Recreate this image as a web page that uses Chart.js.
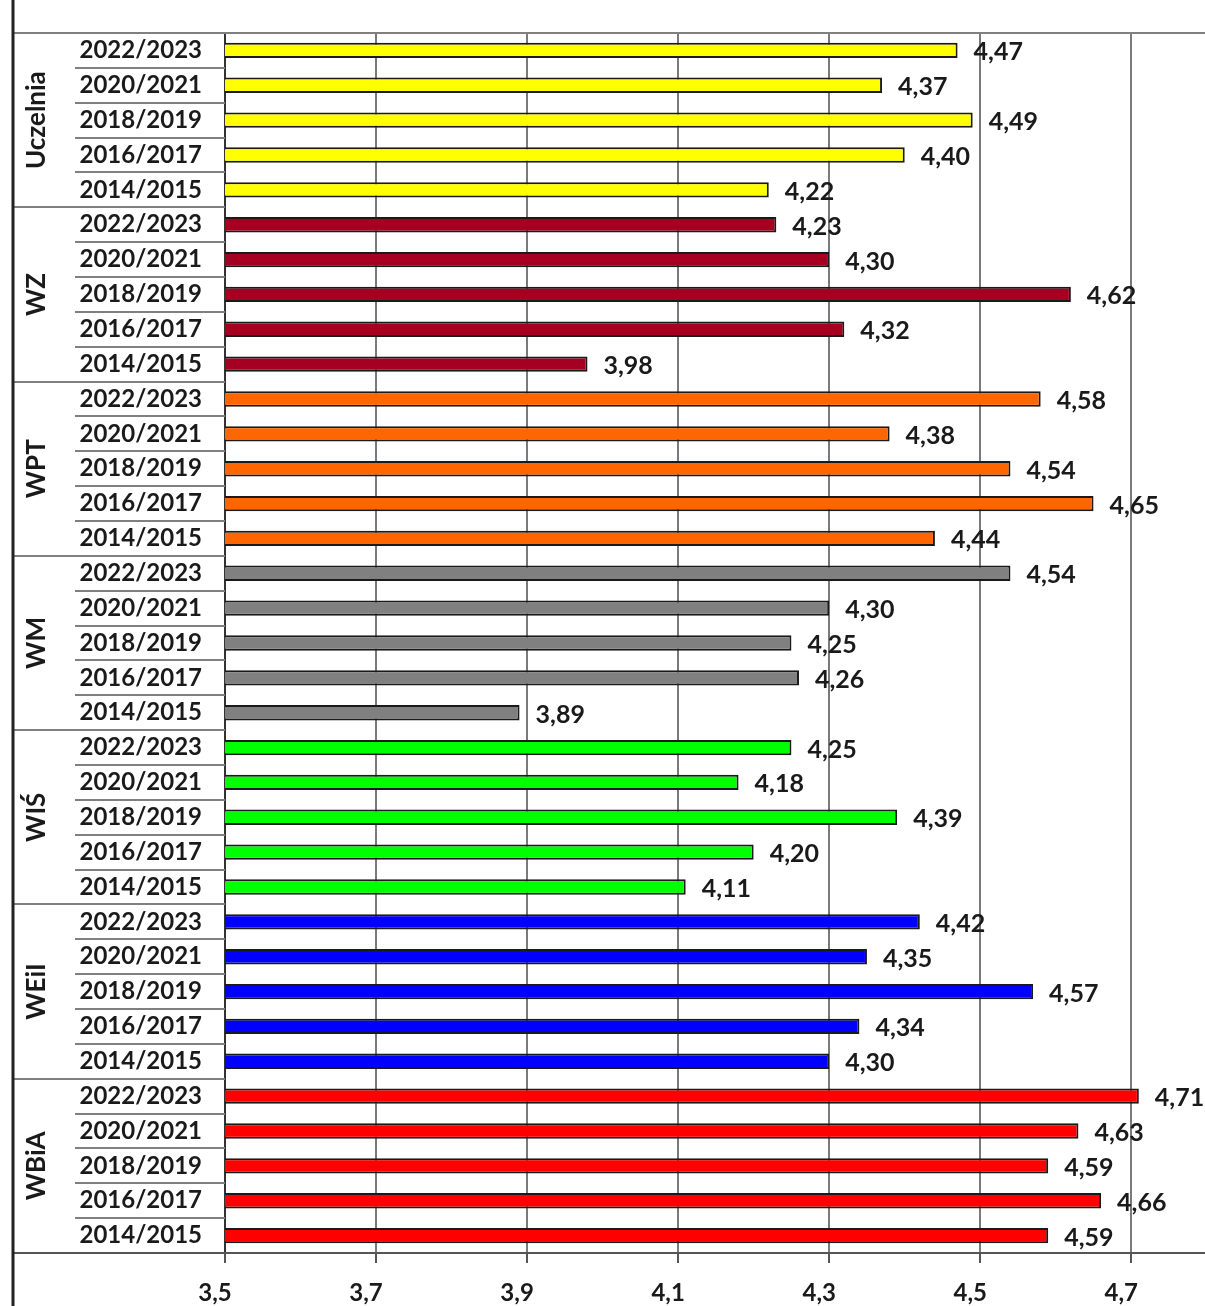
<!DOCTYPE html>
<html>
<head>
<meta charset="utf-8">
<title>Oceny</title>
<script src="https://cdn.jsdelivr.net/npm/chart.js@4.4.1/dist/chart.umd.min.js"></script>
<style>
  html, body { margin: 0; background: #fff; overflow: hidden; }
  #box { width: 1205px; height: 1306px; position: relative; }
</style>
</head>
<body>
<div id="box"><canvas id="oceny_chart"></canvas></div>
<script>
// groups (top -> bottom) and years inside each group
let groups = ["Uczelnia", "WZ", "WPT", "WM", "WIŚ", "WEiI", "WBiA"];
let years = ["2022/2023", "2020/2021", "2018/2019", "2016/2017", "2014/2015"];

let uczelnia = [4.47, 4.37, 4.49, 4.40, 4.22];
let wz = [4.23, 4.30, 4.62, 4.32, 3.98];
let wpt = [4.58, 4.38, 4.54, 4.65, 4.44];
let wm = [4.54, 4.30, 4.25, 4.26, 3.89];
let wis = [4.25, 4.18, 4.39, 4.20, 4.11];
let weii = [4.42, 4.35, 4.57, 4.34, 4.30];
let wbia = [4.71, 4.63, 4.59, 4.66, 4.59];

let xTicks = [3.5, 3.7, 3.9, 4.1, 4.3, 4.5, 4.7];

let groupColors = ["#ffff00", "#a50021", "#ff6600", "#808080", "#00ff00", "#0000ff", "#ff0000"];

let allValues = [uczelnia, wz, wpt, wm, wis, weii, wbia];
let labels = [];
let values = [];
let colors = [];
allValues.forEach((arr, g) => {
    arr.forEach((v, i) => {
        labels.push(years[i]);
        values.push(v);
        colors.push(groupColors[g]);
    });
});

const FONT = "Lato, 'Open Sans', sans-serif";

function comma(v, digits) {
    return v.toFixed(digits).replace(".", ",");
}

// value labels on the right side of bars
let valueLabels = {
    id: "valueLabels",
    afterDatasetsDraw(chart) {
        let ctx = chart.ctx;
        let meta = chart.getDatasetMeta(0);
        ctx.save();
        ctx.font = "bold 25px " + FONT;
        ctx.fillStyle = "#1a1a1a";
        ctx.textBaseline = "middle";
        ctx.textAlign = "left";
        meta.data.forEach((bar, i) => {
            ctx.fillText(comma(values[i], 2), bar.x + 16, bar.y + 2);
        });
        ctx.restore();
    }
};

// frame lines + rotated group names on the left
let groupFrame = {
    id: "groupFrame",
    afterDraw(chart) {
        let ctx = chart.ctx;
        let y = chart.scales.y;
        let area = chart.chartArea;
        let row = (y.getPixelForValue(1) - y.getPixelForValue(0));
        ctx.save();

        // year separators
        ctx.strokeStyle = "#808080";
        ctx.lineWidth = 2;
        for (let i = 1; i < labels.length; i++) {
            let yy = Math.round(y.getPixelForValue(i) - row / 2);
            ctx.beginPath();
            if (i % years.length == 0) {
                ctx.moveTo(13, yy);
            } else {
                ctx.moveTo(75, yy);
            }
            ctx.lineTo(area.left, yy);
            ctx.stroke();
        }

        // top line
        ctx.beginPath();
        ctx.moveTo(13, area.top);
        ctx.lineTo(chart.width, area.top);
        ctx.stroke();

        // bottom line
        ctx.strokeStyle = "#555";
        ctx.beginPath();
        ctx.moveTo(13, area.bottom);
        ctx.lineTo(chart.width, area.bottom);
        ctx.stroke();

        // thick left line
        ctx.strokeStyle = "#222";
        ctx.lineWidth = 3;
        ctx.beginPath();
        ctx.moveTo(13, 0);
        ctx.lineTo(13, chart.height);
        ctx.stroke();

        // group names
        ctx.fillStyle = "#1a1a1a";
        ctx.font = "bold 26px " + FONT;
        ctx.textAlign = "center";
        ctx.textBaseline = "middle";
        groups.forEach((name, g) => {
            let first = y.getPixelForValue(g * years.length);
            let last = y.getPixelForValue(g * years.length + years.length - 1);
            ctx.save();
            ctx.translate(37, (first + last) / 2);
            ctx.rotate(-Math.PI / 2);
            ctx.fillText(name, 0, 0);
            ctx.restore();
        });
        ctx.restore();
    }
};

new Chart("oceny_chart", {
    type: "bar",
    data: {
        labels: labels,
        datasets: [{
            data: values,
            backgroundColor: colors,
            borderColor: "#1a1a1a",
            borderWidth: 2,
            borderSkipped: false,
            barPercentage: 0.44,
            categoryPercentage: 1
        }]
    },
    options: {
        indexAxis: "y",
        responsive: true,
        maintainAspectRatio: false,
        animation: false,
        layout: { padding: { top: 33, right: 8, left: 0, bottom: 0 } },
        plugins: {
            legend: { display: false },
            tooltip: { enabled: false }
        },
        scales: {
            x: {
                min: 3.5,
                max: 4.787,
                afterBuildTicks: function (axis) {
                    axis.ticks = xTicks.map(v => ({ value: v }));
                },
                afterFit: function (scale) {
                    scale.height = 53;
                },
                grid: {
                    color: "#7a7a7a",
                    lineWidth: 2,
                    drawTicks: true,
                    tickLength: 10,
                    tickColor: "#555"
                },
                border: { display: false },
                ticks: {
                    padding: 16,
                    labelOffset: -10,
                    color: "#1a1a1a",
                    font: { family: FONT, size: 24, weight: "bold" },
                    callback: function (v) { return comma(v, 1); }
                }
            },
            y: {
                afterFit: function (scale) {
                    scale.width = 225;
                    scale.paddingTop = 0;
                    scale.paddingBottom = 0;
                },
                grid: { display: false },
                border: { display: true, color: "#333", width: 2 },
                ticks: {
                    autoSkip: false,
                    padding: 15,
                    color: "#1a1a1a",
                    font: { family: FONT, size: 24, weight: "bold" }
                }
            }
        }
    },
    plugins: [valueLabels, groupFrame]
});
</script>
</body>
</html>
